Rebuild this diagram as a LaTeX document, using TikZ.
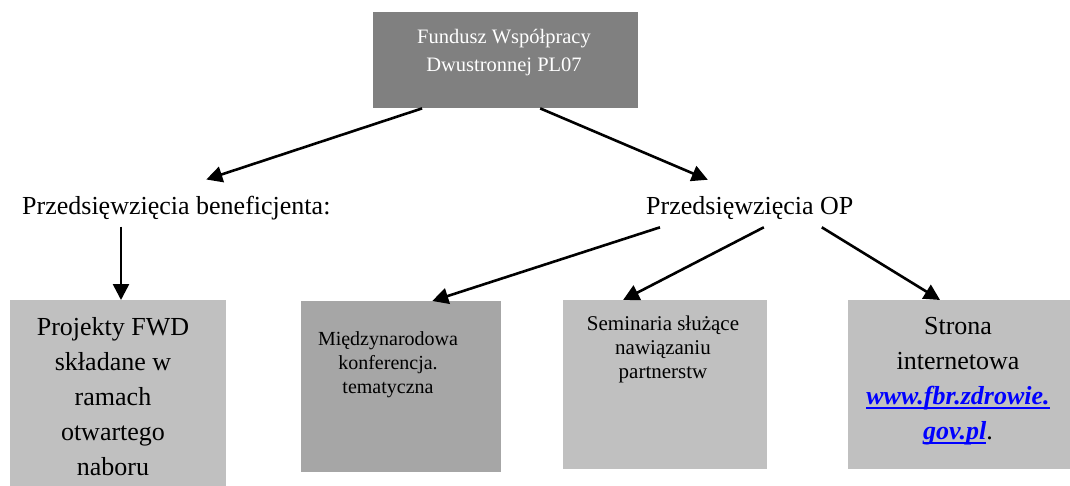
\documentclass[tikz,border=0pt]{standalone}
\usepackage{fontspec}
\setmainfont{Liberation Serif}
\usetikzlibrary{arrows.meta,calc}
\definecolor{topgray}{HTML}{808080}
\definecolor{lightgray}{HTML}{C0C0C0}
\definecolor{midgray}{HTML}{A6A6A6}
\definecolor{linkblue}{HTML}{0000FF}
\newcommand\linktext[1]{{\color{linkblue}\setbox0\hbox{\textbf{\textit{#1}}}%
  \rlap{\rule[-4.5pt]{\wd0}{1.6pt}}\box0}}
\tikzset{
  box/.style={rectangle, inner sep=0pt, anchor=north west},
  boxtext/.style={align=center, inner sep=0pt, anchor=north},
  lbl/.style={inner sep=0pt, anchor=base west, font=\fontsize{26}{35}\selectfont},
  arr/.style={-{Triangle[length=16pt,width=16pt]}, line width=2.6pt}
}
\begin{document}
\begin{tikzpicture}[x=1pt,y=-1pt]
  \useasboundingbox (0,0) rectangle (1070,486);
  % top box
  \node[box, fill=topgray, minimum width=265pt, minimum height=96pt] (fwd) at (373,12) {};
  \node[boxtext, text=white, font=\fontsize{20.5}{28}\selectfont] (fwdt) at (504,29)
    {Fundusz Współpracy\\Dwustronnej PL07};
  % second level
  \node[lbl] (ben) at (22,215) {Przedsięwzięcia beneficjenta:};
  \node[lbl] (op) at (646,215) {Przedsięwzięcia OP};
  % bottom boxes
  \node[box, fill=lightgray, minimum width=216pt, minimum height=186pt] (b1) at (10,300) {};
  \node[box, fill=midgray, minimum width=200pt, minimum height=171pt] (b2) at (301,301) {};
  \node[box, fill=lightgray, minimum width=204pt, minimum height=169pt] (b3) at (563,300) {};
  \node[box, fill=lightgray, minimum width=222pt, minimum height=169pt] (b4) at (848,300) {};
  \node[boxtext, font=\fontsize{26}{35}\selectfont] (b1t) at (113,317)
    {Projekty FWD\\składane w\\ramach\\otwartego\\naboru};
  \node[boxtext, font=\fontsize{20}{24}\selectfont] (b2t) at (388,331)
    {Międzynarodowa\\konferencja.\\tematyczna};
  \node[boxtext, font=\fontsize{21}{24}\selectfont] (b3t) at (663,316)
    {Seminaria służące\\nawiązaniu\\partnerstw};
  \node[boxtext, font=\fontsize{26}{35}\selectfont] (b4t) at (958,317)
    {Strona\\internetowa\\\linktext{www.fbr.zdrowie.}\\\linktext{gov.pl}.};
  % arrows
  \draw[arr] ($(fwd.south west)!0.185!(fwd.south east)$) -- ($(ben.north)+(30,-17)$);
  \draw[arr] ($(fwd.south west)!0.63!(fwd.south east)$) -- ($(op.north)+(-42,-17)$);
  \draw[arr] ($(ben.south west)+(99,6)$) -- ($(b1.north west)+(111,0)$);
  \draw[arr] ($(op.south west)+(14,7)$) -- ($(b2.north west)!0.655!(b2.north east)$);
  \draw[arr] ($(op.south)+(14,7)$) -- ($(b3.north west)!0.294!(b3.north east)$);
  \draw[arr] ($(op.south)+(72,7)$) -- ($(b4.north west)!0.414!(b4.north east)$);
\end{tikzpicture}
\end{document}
